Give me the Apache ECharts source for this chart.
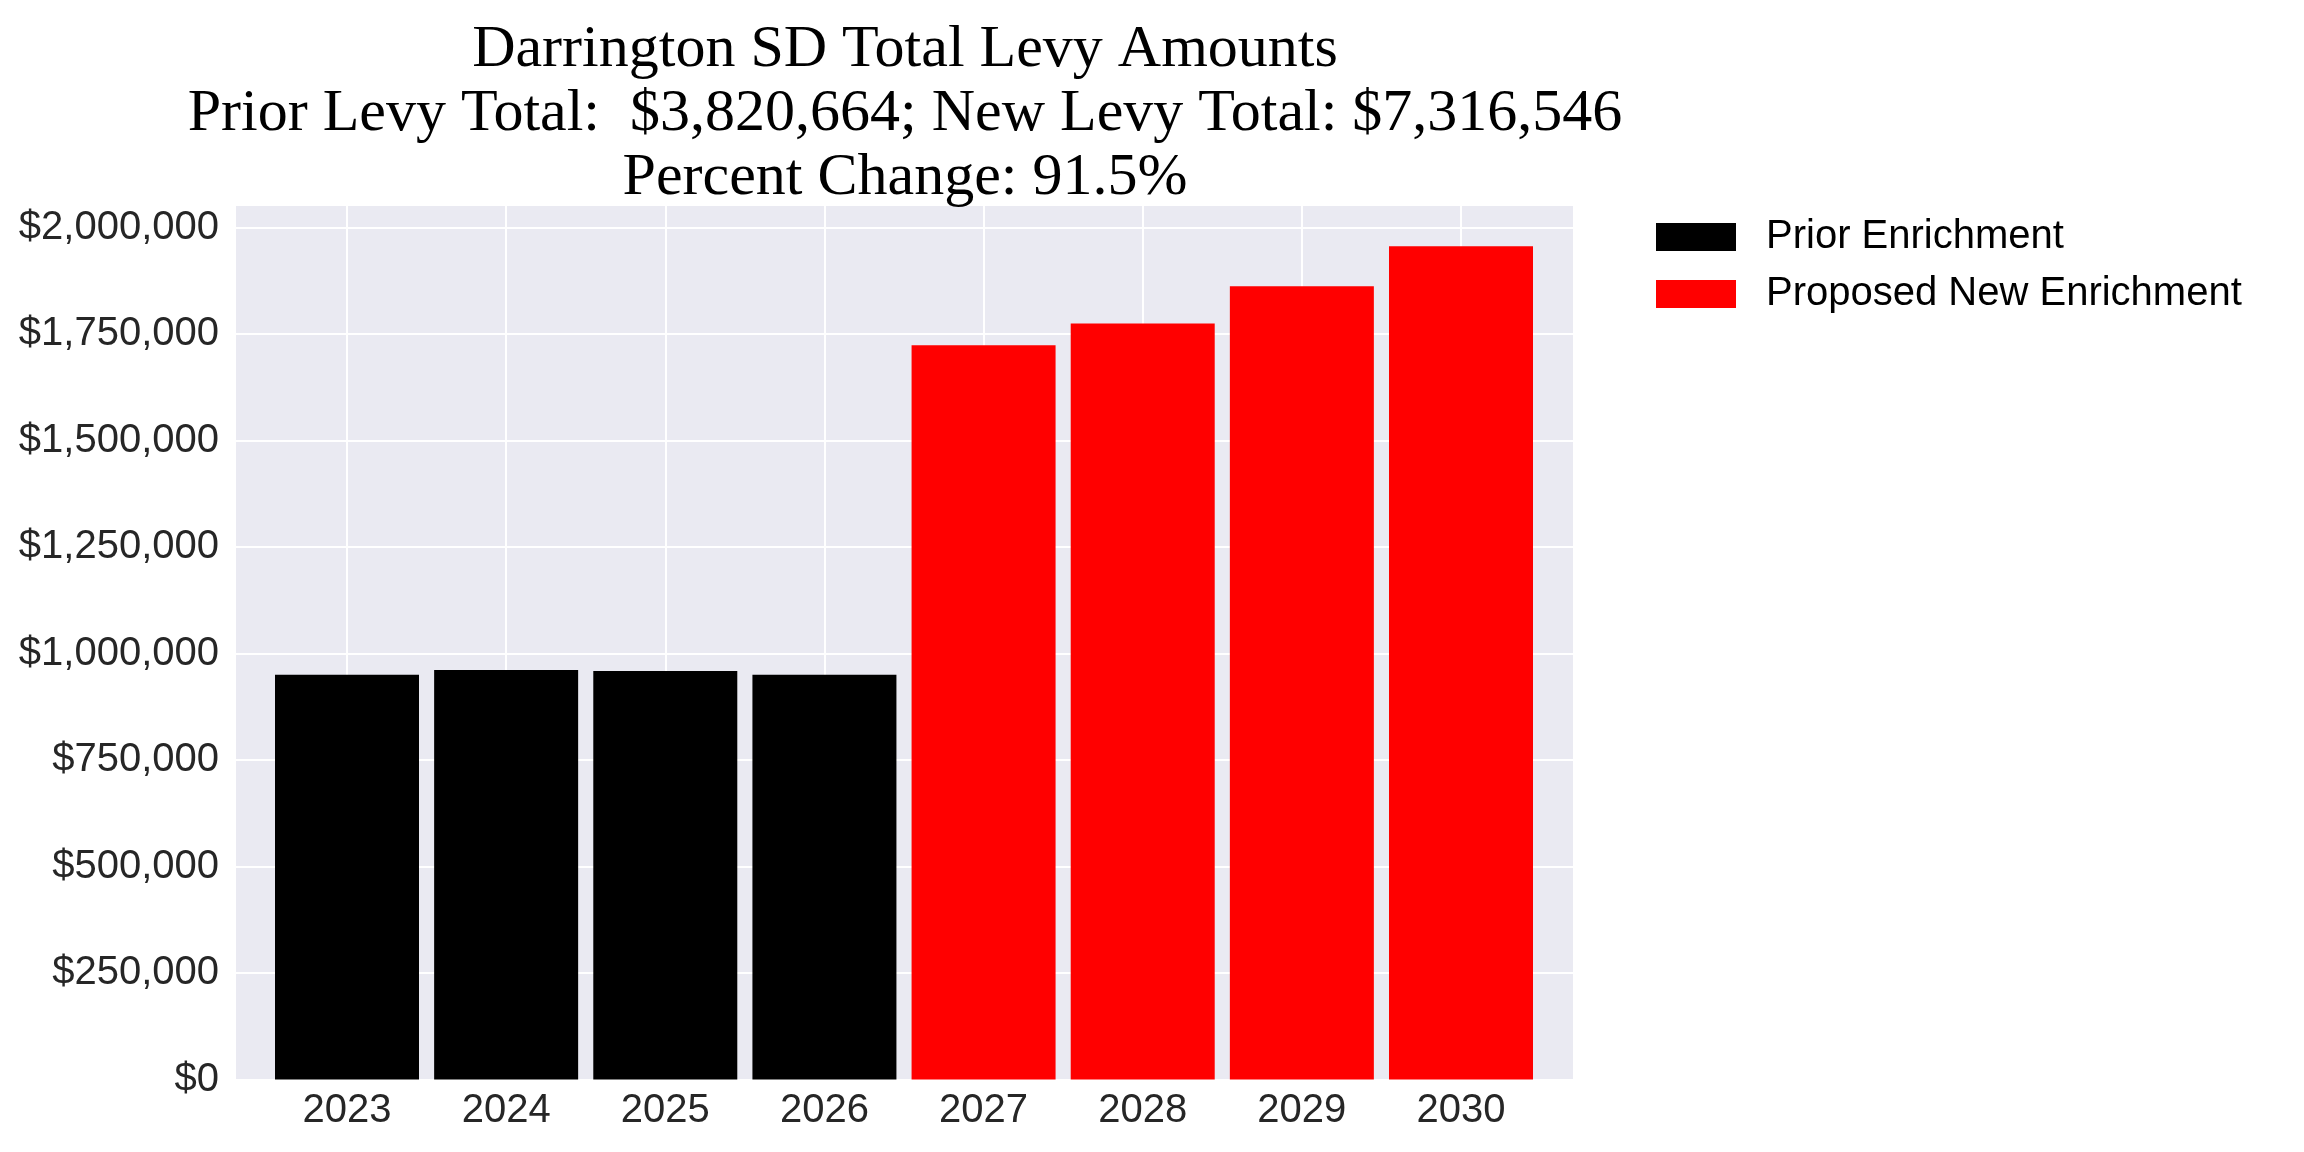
<!DOCTYPE html>
<html>
<head>
<meta charset="utf-8">
<script src="https://cdn.jsdelivr.net/npm/echarts@6/dist/echarts.min.js"></script>
<style>
html,body{margin:0;padding:0;background:#fff;}
#chart{width:2304px;height:1152px;}
</style>
</head>
<body>
<div id="chart"></div>
<script>
const years = ['2023','2024','2025','2026','2027','2028','2029','2030'];
const priorEnrichment = [950000, 961500, 959000, 950200, null, null, null, null];
const proposedNewEnrichment = [null, null, null, null, 1723500, 1775000, 1862000, 1956000];
const seriesNames = ['Prior Enrichment', 'Proposed New Enrichment'];
const titleLines = [
  'Darrington SD Total Levy Amounts',
  'Prior Levy Total:  $3,820,664; New Levy Total: $7,316,546',
  'Percent Change: 91.5%'
];
const yMin = 0, yMax = 2053000, yStep = 250000;

const sans = 'Liberation Sans, Arial, sans-serif';
const chart = echarts.init(document.getElementById('chart'));
const money = v => '$' + Math.round(v).toLocaleString('en-US');

chart.setOption({
  animation: false,
  backgroundColor: '#ffffff',
  title: {
    text: titleLines.join('\n'),
    left: 900,
    top: 13,
    textAlign: 'center',
    textStyle: {
      fontFamily: 'Liberation Serif, Times New Roman, serif',
      fontSize: 60,
      fontWeight: 'normal',
      color: '#000000',
      lineHeight: 64
    }
  },
  legend: {
    orient: 'vertical',
    left: 1651,
    top: 212,
    itemWidth: 80,
    itemHeight: 28,
    itemGap: 17,
    icon: 'rect',
    data: seriesNames,
    textStyle: {
      fontFamily: sans,
      fontSize: 40,
      color: '#000000',
      padding: [0, 0, 0, 25]
    }
  },
  grid: [
    { left: 236, top: 205, width: 1337, height: 874.5, show: true,
      backgroundColor: '#EAEAF2', borderWidth: 0 },
    { left: 347, top: 205, width: 1114, height: 874.5, show: false }
  ],
  xAxis: [
    { type: 'value', gridIndex: 0, show: false, min: 0, max: 1 },
    { type: 'category', gridIndex: 1, data: years, boundaryGap: false,
      axisLine: { show: false }, axisTick: { show: false },
      splitLine: { show: true, lineStyle: { color: '#ffffff', width: 2 } },
      axisLabel: { fontFamily: sans, fontSize: 40, color: '#262626', margin: 11 } }
  ],
  yAxis: [
    { type: 'value', gridIndex: 0, min: yMin, max: yMax, interval: yStep,
      axisLine: { show: false }, axisTick: { show: false },
      splitLine: { show: true, lineStyle: { color: '#ffffff', width: 2 } },
      axisLabel: { fontFamily: sans, fontSize: 40, color: '#262626', margin: 17,
        formatter: v => v > 2000000 ? '' : money(v) } },
    { type: 'value', gridIndex: 1, min: yMin, max: yMax, interval: yStep, show: false,
      splitLine: { show: false } }
  ],
  series: [
    { name: seriesNames[0], type: 'bar', xAxisIndex: 1, yAxisIndex: 1,
      data: priorEnrichment, stack: 'levy', barWidth: 144, clip: false,
      itemStyle: { color: '#000000' } },
    { name: seriesNames[1], type: 'bar', xAxisIndex: 1, yAxisIndex: 1,
      data: proposedNewEnrichment, stack: 'levy', barWidth: 144, clip: false,
      itemStyle: { color: '#FF0000' } }
  ]
});
</script>
</body>
</html>
